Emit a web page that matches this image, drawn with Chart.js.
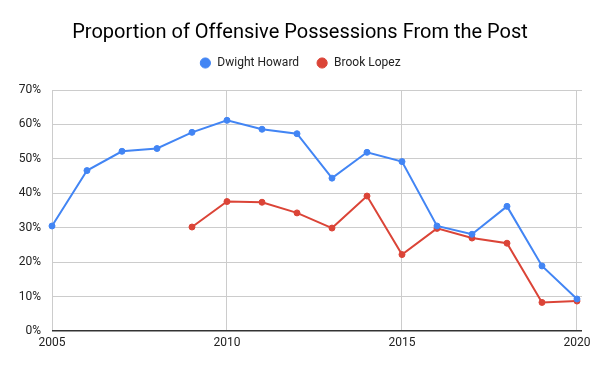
<!DOCTYPE html>
<html>
<head>
<meta charset="utf-8">
<script src="https://cdn.jsdelivr.net/npm/chart.js@4"></script>
<style>
  html, body { margin: 0; padding: 0; background: #fff; }
  #wrap { width: 600px; height: 371px; }
</style>
</head>
<body>
<div id="wrap"><canvas id="Grafico" width="600" height="371"></canvas></div>
<script>
const anios = [2005, 2006, 2007, 2008, 2009, 2010, 2011, 2012, 2013, 2014, 2015, 2016, 2017, 2018, 2019, 2020];
const dwight_howard = [30.5, 46.6, 52.2, 53.0, 57.7, 61.2, 58.6, 57.3, 44.4, 51.9, 49.2, 30.5, 28.1, 36.2, 18.9, 9.3];
const brook_lopez = [null, null, null, null, 30.2, 37.6, 37.4, 34.3, 29.9, 39.2, 22.2, 29.8, 27.0, 25.5, 8.3, 8.7];
const ticks_x = [2005, 2010, 2015, 2020];
const ticks_y = [0, 10, 20, 30, 40, 50, 60, 70];

function puntos(valores){
    const arreglo = [];
    for(let i = 0; i < anios.length; i++){
        if(valores[i] !== null) arreglo.push({x: anios[i], y: valores[i]});
    }
    return arreglo;
}

// espacio extra debajo de la leyenda
const espacio_leyenda = {
    id: 'espacio_leyenda',
    beforeInit(chart){
        const fit_original = chart.legend.fit;
        chart.legend.fit = function(){
            fit_original.bind(chart.legend)();
            this.height += 11;
        };
    }
};

const ctx = document.getElementById('Grafico');
new Chart(ctx, {
    type: 'line',
    data: {
        datasets: [{
            label: 'Dwight Howard',
            data: puntos(dwight_howard),
            borderColor: '#4285f4',
            backgroundColor: '#4285f4',
            borderWidth: 2,
            pointRadius: 3,
            pointBorderWidth: 1,
            pointHoverRadius: 3,
            tension: 0,
            clip: false
        }, {
            label: 'Brook Lopez',
            data: puntos(brook_lopez),
            borderColor: '#db4437',
            backgroundColor: '#db4437',
            borderWidth: 2,
            pointRadius: 3,
            pointBorderWidth: 1,
            pointHoverRadius: 3,
            tension: 0,
            clip: false
        }]
    },
    plugins: [espacio_leyenda],
    options: {
        responsive: false,
        animation: false,
        layout: { padding: { left: 18, right: 18, top: 0, bottom: 0 } },
        plugins: {
            title: {
                display: true,
                text: 'Proportion of Offensive Possessions From the Post',
                color: '#000',
                font: { family: 'Roboto', size: 20, weight: 'normal' },
                padding: { top: 21, bottom: -5 }
            },
            legend: {
                labels: {
                    usePointStyle: true,
                    pointStyle: 'circle',
                    boxWidth: 12,
                    boxHeight: 7.2,
                    color: '#222',
                    font: { family: 'Roboto', size: 12 },
                    padding: 17
                }
            },
            tooltip: { enabled: false }
        },
        scales: {
            x: {
                type: 'linear',
                min: 2005,
                max: 2020.143,
                afterBuildTicks: (eje) => { eje.ticks = ticks_x.map(v => ({value: v})); },
                afterFit: (eje) => { eje.height = 40; },
                grid: { color: '#cccccc', drawTicks: false },
                border: { display: false },
                ticks: {
                    color: '#222',
                    font: { family: 'Roboto', size: 12 },
                    padding: 5,
                    maxRotation: 0,
                    callback: (v) => String(v)
                }
            },
            y: {
                min: 0,
                max: 70,
                afterBuildTicks: (eje) => { eje.ticks = ticks_y.map(v => ({value: v})); },
                afterFit: (eje) => { eje.width = 34; },
                grid: {
                    color: (c) => c.tick && c.tick.value === 0 ? '#333333' : '#cccccc',
                    lineWidth: (c) => c.tick && c.tick.value === 0 ? 1.5 : 1,
                    drawTicks: false
                },
                border: { display: false },
                ticks: {
                    color: '#222',
                    font: { family: 'Roboto', size: 12 },
                    padding: 11,
                    callback: (v) => v + '%'
                }
            }
        }
    }
});
</script>
</body>
</html>
